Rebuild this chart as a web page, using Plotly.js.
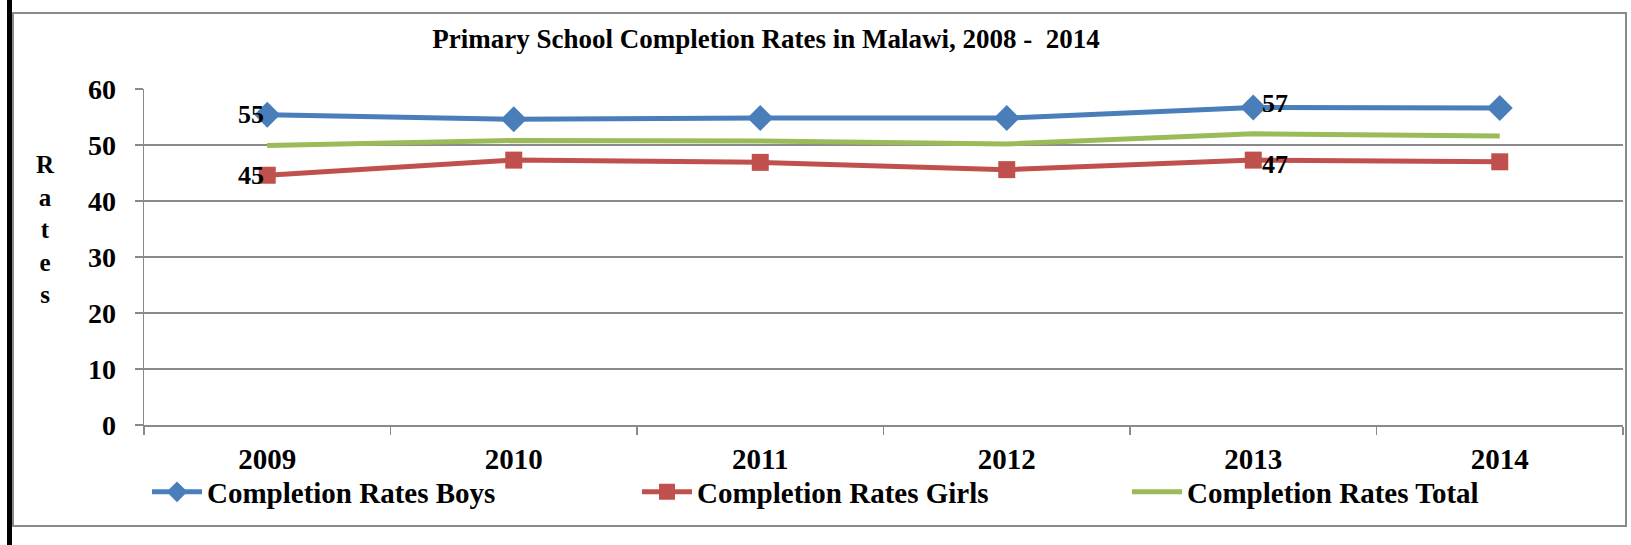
<!DOCTYPE html>
<html>
<head>
<meta charset="utf-8">
<script src="https://cdn.plot.ly/plotly-3.0.1.min.js"></script>
<style>
html,body{margin:0;padding:0;background:#fff;}
#chart{width:1631px;height:545px;}
</style>
</head>
<body>
<div id="chart"></div>
<script>
// ---- data ----
const years = ['2009', '2010', '2011', '2012', '2013', '2014'];
const boys  = [55.4, 54.6, 54.8, 54.8, 56.7, 56.6];
const girls = [44.6, 47.3, 46.9, 45.6, 47.3, 47.0];
const total = [49.9, 50.8, 50.7, 50.2, 52.0, 51.6];
const boysLabels  = ['55', '', '', '', '57', ''];
const girlsLabels = ['45', '', '', '', '47', ''];
const seriesNames = ['Completion Rates Boys', 'Completion Rates Girls', 'Completion Rates Total'];
const titleText = 'Primary School Completion Rates in Malawi, 2008 - &nbsp;2014';
const yTitle = 'Rates';

// ---- layout constants ----
const W = 1631, H = 545;
const M = {l: 144, r: 8, t: 89, b: 120};
const PW = W - M.l - M.r, PH = H - M.t - M.b;
const px = v => (v - M.l) / PW;
const py = v => (H - M.b - v) / PH;

const FONT = 'Liberation Serif, Times New Roman, serif';
const grey = '#8a8a8a';
const cBoys = '#4A7EBB', cGirls = '#C0504D', cTotal = '#9BBB59';

const traces = [
  {x: years, y: boys, name: seriesNames[0], type: 'scatter', mode: 'lines+markers',
   line: {color: cBoys, width: 5}, marker: {symbol: 'diamond', size: 20, color: cBoys}},
  {x: years, y: girls, name: seriesNames[1], type: 'scatter', mode: 'lines+markers',
   line: {color: cGirls, width: 5}, marker: {symbol: 'square', size: 17, color: cGirls}},
  {x: years, y: total, name: seriesNames[2], type: 'scatter', mode: 'lines',
   line: {color: cTotal, width: 5}}
];

const annotations = [];
function addLabels(vals, labels, side) {
  labels.forEach((t, i) => {
    if (!t) return;
    const left = i === 0;
    annotations.push({
      x: i, y: vals[i], xref: 'x', yref: 'y', text: t, showarrow: false,
      xanchor: left ? 'right' : 'left', yanchor: 'middle',
      xshift: left ? -1 : 7, yshift: left ? 0 : side,
      font: {family: FONT, size: 26, color: '#000', weight: 'bold'}
    });
  });
}
addLabels(boys, boysLabels, 4);
addLabels(girls, girlsLabels, -4);

annotations.push({
  xref: 'paper', yref: 'paper', x: px(45), y: py(230), xanchor: 'center', yanchor: 'middle',
  text: yTitle.split('').join('<br>'), showarrow: false, align: 'center',
  font: {family: FONT, size: 25, color: '#000', weight: 'bold'}
});

const shapes = [
  {type: 'rect', xref: 'paper', yref: 'paper', x0: px(13), x1: px(1626), y0: py(13), y1: py(526),
   line: {color: grey, width: 2}, fillcolor: 'rgba(0,0,0,0)', layer: 'below'},
  {type: 'rect', xref: 'paper', yref: 'paper', x0: px(7), x1: px(12), y0: py(0), y1: py(545),
   line: {width: 0}, fillcolor: '#000'}
];

const layout = {
  width: W, height: H,
  margin: M,
  paper_bgcolor: '#fff', plot_bgcolor: '#fff',
  font: {family: FONT, color: '#000'},
  title: {text: titleText, xref: 'container', yref: 'container',
          x: 766 / W, y: 1 - 39 / H, xanchor: 'center', yanchor: 'middle',
          font: {family: FONT, size: 27, color: '#000', weight: 'bold'}},
  xaxis: {type: 'category', range: [-0.5, 5.5], autorange: false,
          showgrid: false, showline: true, linecolor: grey, linewidth: 2,
          ticks: 'outside', tickson: 'boundaries', ticklen: 8, tickcolor: grey, tickwidth: 1.5,
          tickfont: {family: FONT, size: 29, color: '#000', weight: 'bold'},
          ticklabelstandoff: 7, fixedrange: true, zeroline: false},
  yaxis: {range: [0, 60], autorange: false, dtick: 10, showgrid: true, gridcolor: grey, gridwidth: 1.5,
          showline: true, linecolor: grey, linewidth: 1.5, zeroline: false,
          ticks: 'outside', ticklen: 8, tickcolor: grey, tickwidth: 1.5,
          tickfont: {family: FONT, size: 28, color: '#000', weight: 'bold'},
          ticklabelstandoff: 13, fixedrange: true},
  showlegend: true,
  legend: {orientation: 'h', xref: 'paper', yref: 'paper', x: px(147), y: py(492),
           xanchor: 'left', yanchor: 'middle', entrywidth: 425, itemwidth: 50,
           bgcolor: 'rgba(0,0,0,0)', traceorder: 'normal',
           font: {family: FONT, size: 29, color: '#000', weight: 'bold'}},
  annotations: annotations,
  shapes: shapes
};

Plotly.newPlot('chart', traces, layout, {displayModeBar: false, staticPlot: true});
</script>
</body>
</html>
